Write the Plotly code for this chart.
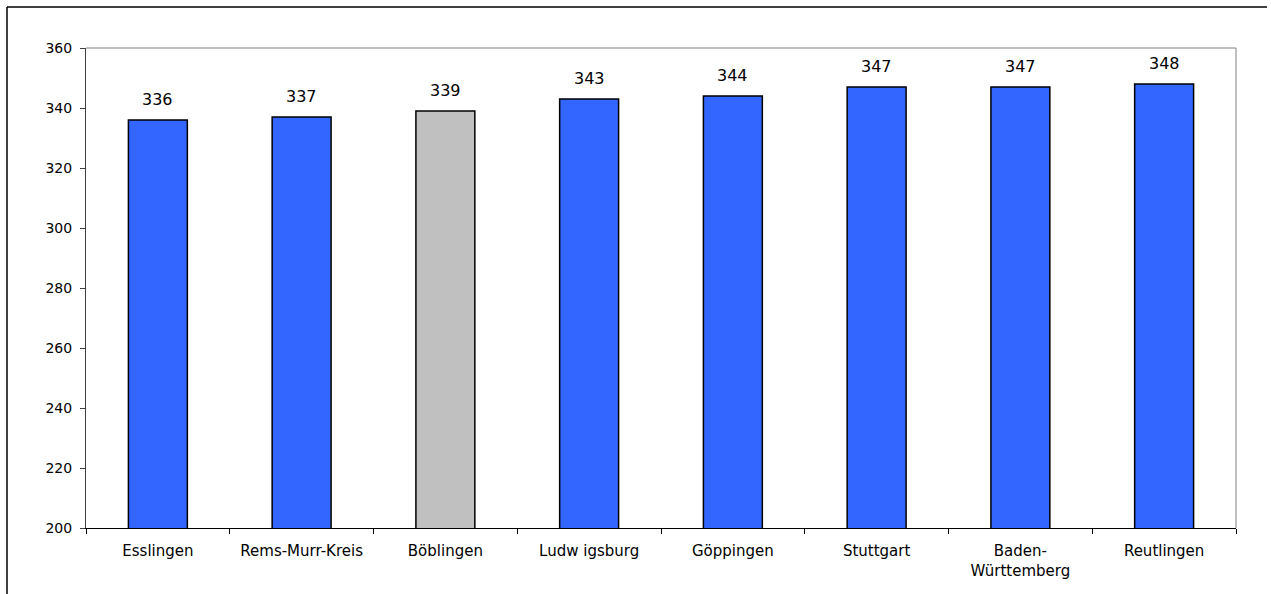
import plotly.graph_objects as go

regions = ["Esslingen", "Rems-Murr-Kreis", "Böblingen", "Ludw igsburg", "Göppingen",
           "Stuttgart", "Baden-<br>Württemberg", "Reutlingen"]
values = [336, 337, 339, 343, 344, 347, 347, 348]
bar_colors = ["#3366FF", "#3366FF", "#C0C0C0", "#3366FF", "#3366FF",
              "#3366FF", "#3366FF", "#3366FF"]
y_ticks = [200, 220, 240, 260, 280, 300, 320, 340, 360]

W, H = 1271, 594
L, R, T, B = 86, 35, 48, 66
PW, PH = W - L - R, H - T - B
FONT = "DejaVu Sans, Liberation Sans, Arial"


def px_x(p):
    return (p - L) / PW


def px_y(p):
    return 1 - (p - T) / PH


fig = go.Figure()
fig.add_trace(go.Bar(
    x=regions, y=values,
    marker=dict(color=bar_colors, line=dict(color="#000000", width=1.5)),
    width=0.41,
    hoverinfo="skip",
))

# value labels above each bar
for r, v in zip(regions, values):
    fig.add_annotation(x=r, y=v, text=str(v), showarrow=False,
                       yanchor="bottom", yshift=9,
                       font=dict(family=FONT, size=16, color="#000000"))

# outer frame: top and left edges
fig.add_shape(type="line", xref="paper", yref="paper",
              x0=px_x(7), x1=px_x(1267), y0=px_y(7), y1=px_y(7),
              line=dict(color="#000000", width=1.5))
fig.add_shape(type="line", xref="paper", yref="paper",
              x0=px_x(7), x1=px_x(7), y0=px_y(7), y1=px_y(H + 5),
              line=dict(color="#000000", width=1.5))

# gray border on top and right of plot area
fig.add_shape(type="line", xref="paper", yref="paper", x0=0, x1=1, y0=1, y1=1,
              line=dict(color="#808080", width=1))
fig.add_shape(type="line", xref="paper", yref="paper", x0=1, x1=1, y0=0, y1=1,
              line=dict(color="#808080", width=1))

fig.update_layout(
    width=W, height=H,
    margin=dict(l=L, r=R, t=T, b=B),
    paper_bgcolor="white", plot_bgcolor="white",
    showlegend=False,
    font=dict(family=FONT, size=14, color="#000000"),
    xaxis=dict(
        showline=True, linecolor="#000000", linewidth=1,
        ticks="outside", ticklen=5, tickcolor="#000000",
        tickson="boundaries",
        tickfont=dict(family=FONT, size=15),
        ticklabelstandoff=9,
        showgrid=False, fixedrange=True,
    ),
    yaxis=dict(
        range=[200, 360], tickvals=y_ticks,
        showline=True, linecolor="#404040", linewidth=1,
        ticks="outside", ticklen=5, tickcolor="#404040",
        tickfont=dict(family=FONT, size=14),
        ticklabelstandoff=5,
        showgrid=False, zeroline=False, fixedrange=True,
    ),
)

fig.write_html("out.html")
